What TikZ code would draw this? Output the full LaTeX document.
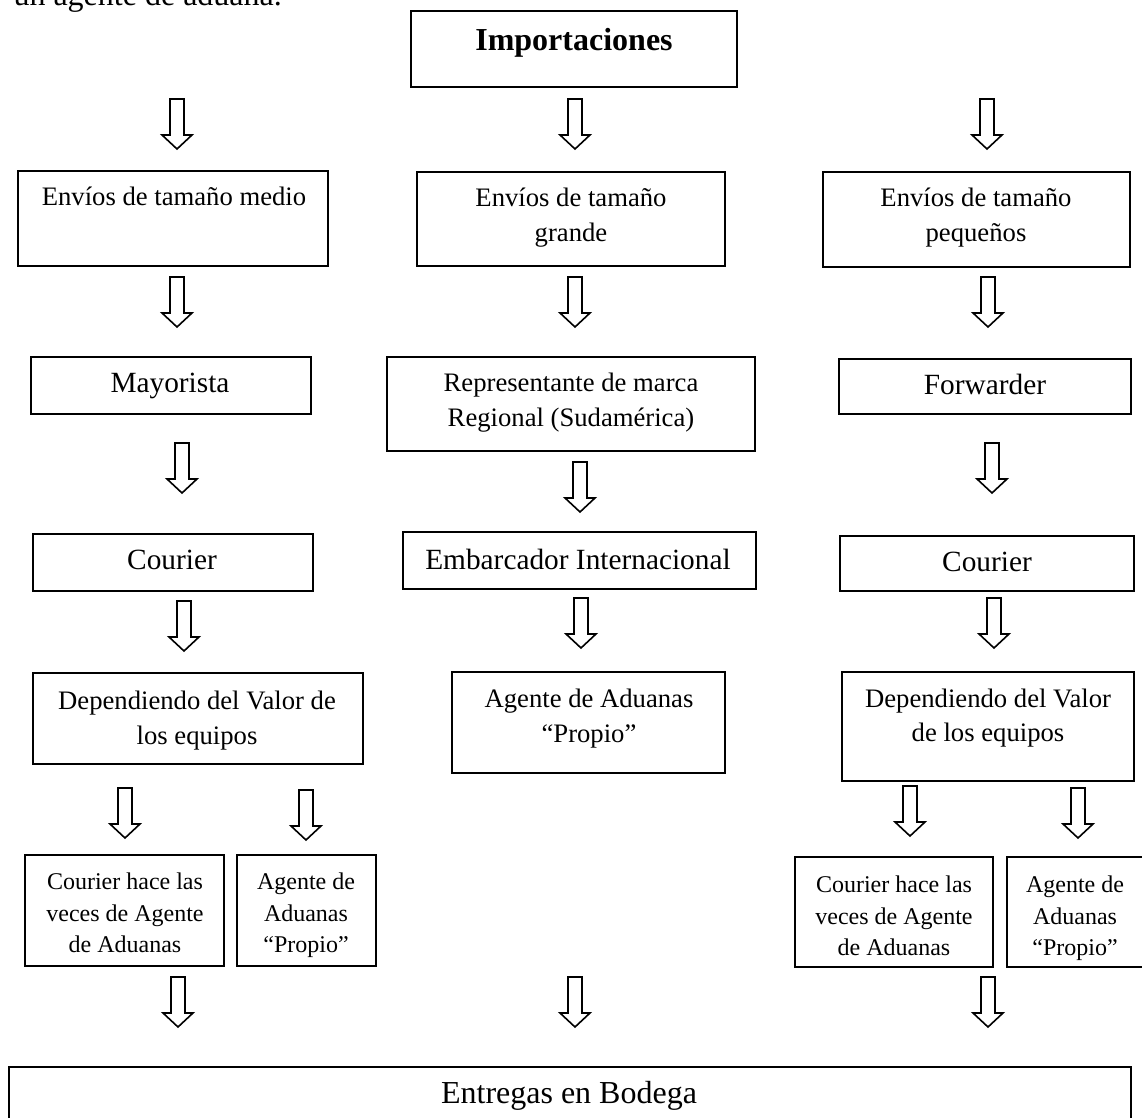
\documentclass[tikz,border=0pt]{standalone}
\usepackage{fontspec}
\setmainfont{Liberation Serif}
\usetikzlibrary{fit}

\newcommand{\px}{0.375pt}

\tikzset{
  caja/.style={draw, line width=0.5pt, inner sep=0pt},
  flecha/.style={draw, line width=0.6pt, line join=miter, fill=white},
  txt/.style={inner sep=0pt, align=center},
  doce/.style={txt, font=\fontsize{12}{15.7}\selectfont},
  once/.style={txt, font=\fontsize{11}{14.4}\selectfont},
  diez/.style={txt, font=\fontsize{10}{13.1}\selectfont},
  nueve/.style={txt, font=\fontsize{9}{11.8}\selectfont},
}

\begin{document}
\begin{tikzpicture}[x=\px, y=-\px]
  \useasboundingbox (0,0) rectangle (1142,1118);

  % texto cortado arriba
  \node[doce, anchor=base west] (intro) at (13,6) {un agente de aduana.};

  % cajas
  \node[caja, fit={(411,11) (737,87)}] (imp) {};
  \node[caja, fit={(18,171) (328,266)}] (medio) {};
  \node[caja, fit={(417,172) (725,266)}] (grande) {};
  \node[caja, fit={(823,172) (1130,267)}] (pequenos) {};
  \node[caja, fit={(31,357) (311,414)}] (mayorista) {};
  \node[caja, fit={(387,357) (755,451)}] (repre) {};
  \node[caja, fit={(839,359) (1131,414)}] (forwarder) {};
  \node[caja, fit={(33,534) (313,591)}] (courierA) {};
  \node[caja, fit={(403,532) (756,589)}] (embarcador) {};
  \node[caja, fit={(840,536) (1134,591)}] (courierB) {};
  \node[caja, fit={(33,673) (363,764)}] (dependeA) {};
  \node[caja, fit={(452,672) (725,773)}] (agente) {};
  \node[caja, fit={(842,672) (1134,781)}] (dependeB) {};
  \node[caja, fit={(25,855) (224,966)}] (courierhA) {};
  \node[caja, fit={(237,855) (376,966)}] (agenteA) {};
  \node[caja, fit={(795,857) (993,967)}] (courierhB) {};
  \node[caja, fit={(1007,857) (1150,967)}] (agenteB) {};
  \node[caja, fit={(9,1067) (1131,1140)}] (bodega) {};

  % textos
  \node[doce, anchor=base, font=\fontsize{12}{15.7}\selectfont\bfseries] (timp) at (574,51) {Importaciones};
  \node[diez, anchor=base] (tmedio) at (174,206) {Envíos de tamaño medio};
  \node[diez, anchor=north] (tgrande) at (571,187.7) {Envíos de tamaño\\grande};
  \node[diez, anchor=north] (tpequenos) at (976,187.7) {Envíos de tamaño\\pequeños};
  \node[once, anchor=base] (tmayorista) at (170,393) {Mayorista};
  \node[diez, anchor=north] (trepre) at (571,372.7) {Representante de marca\\Regional (Sudamérica)};
  \node[once, anchor=base] (tforwarder) at (985,395) {Forwarder};
  \node[once, anchor=base] (tcourierA) at (172,570) {Courier};
  \node[once, anchor=base] (tembarcador) at (578,570) {Embarcador Internacional};
  \node[once, anchor=base] (tcourierB) at (987,572) {Courier};
  \node[diez, anchor=north] (tdependeA) at (197,690.7) {Dependiendo del Valor de\\los equipos};
  \node[diez, anchor=north] (tagente) at (589,688.7) {Agente de Aduanas\\“Propio”};
  \node[diez, anchor=north] (tdependeB) at (988,688) {Dependiendo del Valor\\de los equipos};
  \node[nueve, anchor=north] (tcourierhA) at (125,872.6) {Courier hace las\\veces de Agente\\de Aduanas};
  \node[nueve, anchor=north] (tagenteA) at (306,872.6) {Agente de\\Aduanas\\“Propio”};
  \node[nueve, anchor=north] (tcourierhB) at (894,875.6) {Courier hace las\\veces de Agente\\de Aduanas};
  \node[nueve, anchor=north] (tagenteB) at (1075,875.6) {Agente de\\Aduanas\\“Propio”};
  \node[doce, anchor=base] (tbodega) at (569,1103) {Entregas en Bodega};

  % flechas huecas
  \foreach \x/\y in {177/99, 575/99, 987/99,
                     177/277, 575/277, 988/277,
                     182/443, 580/462, 992/443,
                     184/601, 581/598, 994/598,
                     125/788, 306/790, 910/786, 1078/788,
                     178/977, 575/977, 988/977}
    \draw[flecha] (\x,\y) ++(-7,0) -- ++(14,0) -- ++(0,36) -- ++(8,0)
      -- ++(-15,14) -- ++(-15,-14) -- ++(8,0) -- cycle;
\end{tikzpicture}
\end{document}
